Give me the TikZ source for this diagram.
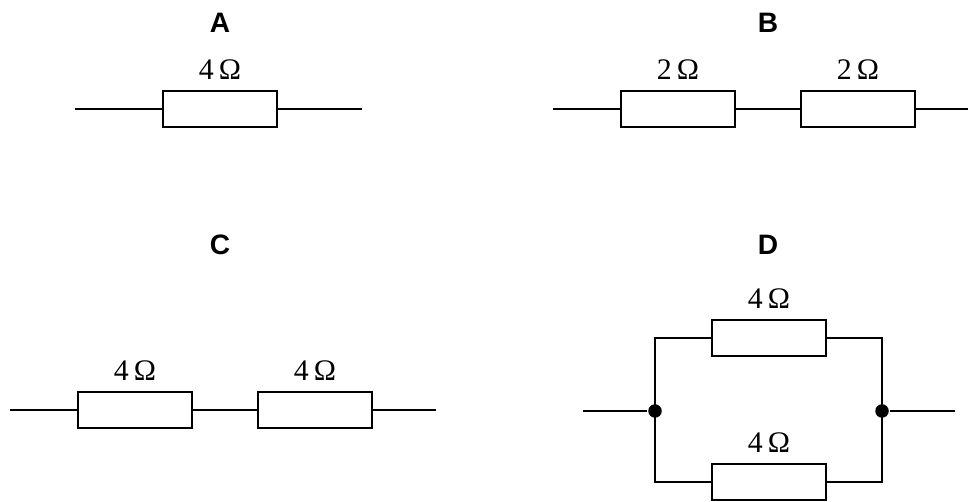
\documentclass[tikz,border=0pt]{standalone}
\usepackage{fontspec}
\setmainfont{Liberation Serif}
\setsansfont{Liberation Sans}
\usetikzlibrary{positioning}
\begin{document}
\begin{tikzpicture}[x=0.02cm,y=-0.02cm,line width=1.5pt]
\tikzstyle{resistor} =[draw, minimum width=2.28cm, minimum height=0.72cm, inner sep=0pt]
\tikzstyle{junction} =[circle, fill = black,inner sep=0pt,minimum size=0.27cm]
\tikzstyle{title} =[font=\sffamily\bfseries\fontsize{16}{19}\selectfont]
\tikzset{ohm/.style={label={[font=\fontsize{17}{20}\selectfont,inner sep=0pt,label distance=5pt]above:#1}}}

\useasboundingbox (0,0) rectangle (970,502);

% circuit A
\node[title](tA) at (220,23){A};
\node[resistor,ohm=4\,Ω](a1) at (220,109){};
\coordinate (a0) at (75,109);
\coordinate (a9) at (362,109);
\draw (a0) -- (a1.west);
\draw (a1.east) -- (a9);

% circuit B
\node[title](tB) at (768,23){B};
\node[resistor,ohm=2\,Ω](b1) at (678,109){};
\node[resistor,ohm=2\,Ω](b2) at (858,109){};
\coordinate (b0) at (553,109);
\coordinate (b9) at (968,109);
\draw (b0) -- (b1.west);
\draw (b1.east) -- (b2.west);
\draw (b2.east) -- (b9);

% circuit C
\node[title](tC) at (220,245){C};
\node[resistor,ohm=4\,Ω](c1) at (135,410){};
\node[resistor,ohm=4\,Ω](c2) at (315,410){};
\coordinate (c0) at (10,410);
\coordinate (c9) at (436,410);
\draw (c0) -- (c1.west);
\draw (c1.east) -- (c2.west);
\draw (c2.east) -- (c9);

% circuit D
\node[title](tD) at (768,245){D};
\node[resistor,ohm=4\,Ω](d1) at (769,338){};
\node[resistor,ohm=4\,Ω](d2) at (769,482){};
\node[junction](dl) at (655,411){};
\node[junction](dr) at (882,411){};
\coordinate (d0) at (583,411);
\coordinate (d9) at (955,411);
\draw (d0) -- (dl);
\draw (dr) -- (d9);
\draw (dl.center) |- (d1.west);
\draw (dl.center) |- (d2.west);
\draw (d1.east) -| (dr.center);
\draw (d2.east) -| (dr.center);
\end{tikzpicture}
\end{document}
